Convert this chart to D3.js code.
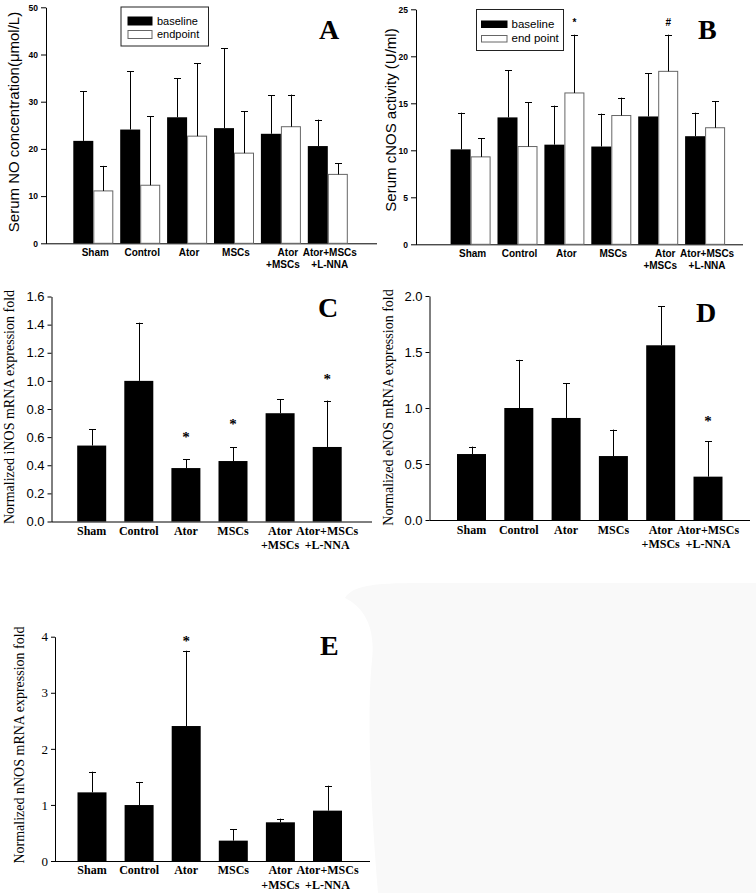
<!DOCTYPE html>
<html><head><meta charset="utf-8">
<script src="https://cdn.jsdelivr.net/npm/d3@7"></script>
<style>body{margin:0;background:#fff}svg{display:block}</style>
</head><body><svg id="c" width="756" height="893"></svg>
<script>
// ---------- data ----------
const groups = ["Sham", "Control", "Ator", "MSCs", "Ator\n+MSCs", "Ator+MSCs\n+L-NNA"];

// Panel A: Serum NO concentration (µmol/L)
const noBaseline   = [21.7, 24.1, 26.7, 24.4, 23.2, 20.6];
const noBaselineSD = [10.5, 12.3, 8.3, 16.9, 8.2, 5.6];
const noEndpoint   = [11.1, 12.3, 22.7, 19.1, 24.7, 14.6];
const noEndpointSD = [5.3, 14.6, 15.4, 8.9, 6.8, 2.4];
const noTicks = [0, 10, 20, 30, 40, 50];

// Panel B: Serum cNOS activity (U/ml)
const cnosBaseline   = [10.1, 13.5, 10.6, 10.4, 13.6, 11.5];
const cnosBaselineSD = [3.9, 5.0, 4.15, 3.5, 4.6, 2.5];
const cnosEndpoint   = [9.3, 10.4, 16.1, 13.7, 18.4, 12.4];
const cnosEndpointSD = [2.0, 4.7, 6.2, 1.9, 3.9, 2.8];
const cnosTicks = [0, 5, 10, 15, 20, 25];
const cnosMarkGroups = ["Ator", "Ator\n+MSCs"];
const cnosMarks = ["*", "#"];
const cnosMarkY = [23.6, 23.6];

// Panel C: iNOS mRNA
const inos   = [0.54, 1.0, 0.38, 0.43, 0.77, 0.53];
const inosSD = [0.117, 0.414, 0.063, 0.099, 0.101, 0.33];
const inosTicks = [0, 0.2, 0.4, 0.6, 0.8, 1.0, 1.2, 1.4, 1.6];
const inosStarGroups = ["Ator", "MSCs", "Ator+MSCs\n+L-NNA"];
const inosStarY = [0.613, 0.708, 1.027];

// Panel D: eNOS mRNA
const enos   = [0.589, 1.0, 0.911, 0.571, 1.56, 0.387];
const enosSD = [0.066, 0.43, 0.312, 0.236, 0.35, 0.315];
const enosTicks = [0, 0.5, 1.0, 1.5, 2.0];
const enosStarGroups = ["Ator+MSCs\n+L-NNA"];
const enosStarY = [0.90];

// Panel E: nNOS mRNA
const nnos   = [1.224, 0.998, 2.407, 0.363, 0.69, 0.898];
const nnosSD = [0.369, 0.412, 1.343, 0.202, 0.065, 0.445];
const nnosTicks = [0, 1, 2, 3, 4];
const nnosStarGroups = ["Ator"];
const nnosStarY = [3.96];

// ---------- drawing ----------
const ARIAL = "'Liberation Sans', Arial, Helvetica, sans-serif";
const TIMES = "'Liberation Serif', 'Times New Roman', Times, serif";
const svg = d3.select("#c");

// faint scan background blob in lower right
svg.append("path")
  .attr("d", "M345,598 C352,586 372,583 420,583 L756,583 L756,893 L378,893 C372,820 366,720 372,660 C376,625 362,606 345,598 Z")
  .attr("fill", "#f9f9f9");

function panel(cfg) {
  const g = svg.append("g");
  const pi = 1 - cfg.groupW / cfg.step;
  const r0 = cfg.c0 - cfg.step / 2;
  const x = d3.scaleBand().domain(groups)
    .range([r0, r0 + cfg.step * groups.length])
    .paddingInner(pi).paddingOuter(pi / 2);
  const y = d3.scaleLinear().domain([0, cfg.yMax]).range([cfg.yB, cfg.yT]);
  const xs = d3.scaleBand().domain(cfg.series.map(s => s.name)).range([0, x.bandwidth()]);

  // y axis
  const ya = g.append("g").attr("transform", `translate(${cfg.ax},0)`)
    .call(d3.axisLeft(y).tickValues(cfg.ticks).tickFormat(cfg.fmt)
      .tickSize(cfg.tickLen).tickSizeOuter(0).tickPadding(cfg.tickPad));
  ya.select(".domain").attr("stroke", "#000");
  ya.selectAll(".tick line").attr("stroke", "#000");
  ya.selectAll(".tick text").attr("fill", "#000")
    .style("font-family", cfg.tickFont).style("font-size", cfg.tickSize + "px")
    .style("font-weight", cfg.tickWeight);

  // x axis line
  g.append("line").attr("x1", cfg.ax).attr("x2", cfg.xEnd)
    .attr("y1", y(0) + 0.5).attr("y2", y(0) + 0.5).attr("stroke", "#000");

  // bars
  cfg.series.forEach(s => {
    const bx = d => x(d) + xs(s.name);
    g.selectAll(null).data(groups).join("rect")
      .attr("x", d => bx(d) + (s.stroke ? 0.5 : 0))
      .attr("y", (d, i) => y(s.mean[i]))
      .attr("width", xs.bandwidth() - (s.stroke ? 1 : 0))
      .attr("height", (d, i) => y(0) - y(s.mean[i]))
      .attr("fill", s.fill)
      .attr("stroke", s.stroke || "none");
    const cx = d => Math.round(bx(d) + xs.bandwidth() / 2) + 0.5;
    g.selectAll(null).data(groups).join("line")
      .attr("x1", cx).attr("x2", cx)
      .attr("y1", (d, i) => y(s.mean[i]))
      .attr("y2", (d, i) => y(s.mean[i] + s.sd[i]))
      .attr("stroke", "#000");
    g.selectAll(null).data(groups).join("line")
      .attr("x1", d => cx(d) - cfg.cap).attr("x2", d => cx(d) + cfg.cap)
      .attr("y1", (d, i) => Math.round(y(s.mean[i] + s.sd[i])) + 0.5)
      .attr("y2", (d, i) => Math.round(y(s.mean[i] + s.sd[i])) + 0.5)
      .attr("stroke", "#000");
  });

  // x labels
  const lbl = g.selectAll(null).data(groups).join("text")
    .attr("text-anchor", "middle")
    .style("font-family", cfg.xFont).style("font-size", cfg.xSize + "px")
    .style("font-weight", "bold").attr("fill", "#000");
  lbl.each(function (d) {
    const t = d3.select(this);
    const cxl = x(d) + x.bandwidth() / 2 + cfg.lblDx;
    d.split("\n").forEach((line, k) => {
      t.append("tspan").attr("x", cxl + (k === 0 && d.indexOf("\n") > 0 && line === "Ator" ? cfg.atorDx : 0))
        .attr("y", cfg.lblY + k * cfg.lblLine).text(line);
    });
  });

  // y label
  g.append("text")
    .attr("transform", `translate(${cfg.ylx},${cfg.yly}) rotate(-90)`)
    .attr("text-anchor", "middle")
    .style("font-family", cfg.ylFont).style("font-size", cfg.ylSize + "px")
    .attr("fill", "#000").text(cfg.ylabel);

  // panel letter
  g.append("text").attr("x", cfg.letterX).attr("y", cfg.letterY)
    .style("font-family", TIMES).style("font-size", "28px").style("font-weight", "bold")
    .attr("fill", "#000").text(cfg.letter);

  // significance marks (grayscale-antialiased via opacity group)
  if (cfg.marks) {
    const m = cfg.marks;
    g.append("g").attr("opacity", 0.999)
      .selectAll(null).data(m.groups).join("text")
      .attr("x", d => x(d) + (m.series ? xs(m.series) + xs.bandwidth() / 2 : x.bandwidth() / 2))
      .attr("y", (d, i) => y(m.y[i]) + m.dy)
      .attr("text-anchor", "middle")
      .style("font-family", m.font).style("font-size", m.size + "px").style("font-weight", m.weight)
      .attr("fill", "#000")
      .text((d, i) => m.text[i]);
  }

  // legend
  if (cfg.legend) {
    const L = cfg.legend;
    g.append("rect").attr("x", L.x + 0.5).attr("y", L.y + 0.5).attr("width", L.w).attr("height", L.h)
      .attr("fill", "#fff").attr("stroke", "#222");
    cfg.series.forEach((s, i) => {
      g.append("rect").attr("x", L.sx + 0.5).attr("y", L.sy[i] + 0.5).attr("width", L.sw).attr("height", L.sh)
        .attr("fill", s.fill).attr("stroke", s.stroke || s.fill);
      g.append("text").attr("x", L.tx).attr("y", L.ty[i])
        .style("font-family", ARIAL).style("font-size", L.size + "px").attr("fill", "#000")
        .text(L.labels[i]);
    });
  }
}

const abCommon = {
  groupW: 40, cap: 3.5, tickLen: 5, tickPad: 3, tickFont: ARIAL, tickSize: 8.5, tickWeight: "bold",
  fmt: d3.format("d"), xFont: ARIAL, xSize: 10, lblDx: 2, atorDx: 5, lblLine: 11.5,
  ylFont: ARIAL, ylSize: 15
};

panel(Object.assign({}, abCommon, {
  ax: 46, xEnd: 377, yT: 7.3, yB: 243.3, yMax: 50, ticks: noTicks,
  c0: 93.3, step: 46.9, lblY: 256,
  series: [
    { name: "baseline", mean: noBaseline, sd: noBaselineSD, fill: "#000" },
    { name: "endpoint", mean: noEndpoint, sd: noEndpointSD, fill: "#fff", stroke: "#666" }
  ],
  ylabel: "Serum NO concentration(\u03bcmol/L)", ylx: 19, yly: 122,
  letter: "A", letterX: 319, letterY: 39,
  legend: { x: 120.5, y: 6.5, w: 87.5, h: 39, sx: 127.5, sy: [16.5, 30], sw: 24, sh: 8,
            tx: 157, ty: [24.5, 38], size: 11, labels: ["baseline", "endpoint"] }
}));

panel(Object.assign({}, abCommon, {
  ax: 416, xEnd: 743, yT: 9.3, yB: 244.3, yMax: 25, ticks: cnosTicks,
  c0: 470.6, step: 46.9, lblY: 257,
  series: [
    { name: "baseline", mean: cnosBaseline, sd: cnosBaselineSD, fill: "#000" },
    { name: "endpoint", mean: cnosEndpoint, sd: cnosEndpointSD, fill: "#fff", stroke: "#666" }
  ],
  ylabel: "Serum cNOS activity (U/ml)", ylx: 396, yly: 120,
  letter: "B", letterX: 698, letterY: 39,
  legend: { x: 476, y: 9, w: 87, h: 41, sx: 481, sy: [20.5, 35], sw: 25.5, sh: 6.5,
            tx: 511.5, ty: [27.5, 42], size: 11.5, labels: ["baseline", "end point"] },
  marks: { groups: cnosMarkGroups, series: "endpoint", y: cnosMarkY, text: cnosMarks,
           dy: 4, font: ARIAL, size: 10, weight: "bold" }
}));

const cdeCommon = {
  groupW: 29, cap: 3.5, tickLen: 4, tickPad: 3, tickWeight: "normal",
  xFont: TIMES, xSize: 12, lblDx: 0, atorDx: 0, lblLine: 14.5, ylFont: TIMES, ylSize: 14
};

panel(Object.assign({}, cdeCommon, {
  ax: 51.5, xEnd: 372, yT: 296.5, yB: 521.5, yMax: 1.6, ticks: inosTicks,
  fmt: d3.format(".1f"), tickFont: ARIAL, tickSize: 13,
  c0: 91.7, step: 47.1, lblY: 534.5,
  series: [{ name: "v", mean: inos, sd: inosSD, fill: "#000" }],
  ylabel: "Normalized iNOS mRNA expression fold", ylx: 14, yly: 407,
  letter: "C", letterX: 318, letterY: 316.5,
  marks: { groups: inosStarGroups, y: inosStarY, text: inosStarGroups.map(() => "*"),
           dy: 7, font: TIMES, size: 15, weight: "bold" }
}));

panel(Object.assign({}, cdeCommon, {
  ax: 429.5, xEnd: 750, yT: 296, yB: 520, yMax: 2.0, ticks: enosTicks,
  fmt: d3.format(".1f"), tickFont: ARIAL, tickSize: 13,
  c0: 471.5, step: 47.3, lblY: 533.5,
  series: [{ name: "v", mean: enos, sd: enosSD, fill: "#000" }],
  ylabel: "Normalized eNOS mRNA expression fold", ylx: 393, yly: 407.5,
  letter: "D", letterX: 696, letterY: 321.5,
  marks: { groups: enosStarGroups, y: enosStarY, text: ["*"],
           dy: 7, font: TIMES, size: 15, weight: "bold" }
}));

panel(Object.assign({}, cdeCommon, {
  ax: 55, xEnd: 370, yT: 636.7, yB: 861, yMax: 4, ticks: nnosTicks,
  fmt: d3.format("d"), tickFont: TIMES, tickSize: 13,
  c0: 92, step: 47.1, lblY: 874,
  series: [{ name: "v", mean: nnos, sd: nnosSD, fill: "#000" }],
  ylabel: "Normalized nNOS mRNA expression fold", ylx: 24, yly: 745,
  letter: "E", letterX: 320, letterY: 655,
  marks: { groups: nnosStarGroups, y: nnosStarY, text: ["*"],
           dy: 7, font: TIMES, size: 15, weight: "bold" }
}));
</script>
</body></html>
